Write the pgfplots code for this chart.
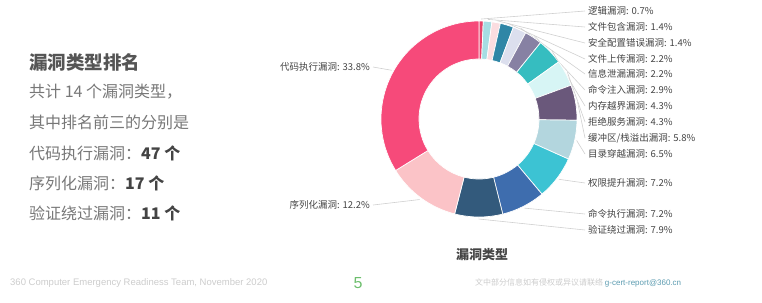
\documentclass[border=0pt]{standalone}
\usepackage{pgfplots}
\usepackage{pgfplotstable}
\pgfplotsset{compat=1.18}
\usepackage{fontspec}
\setmainfont{Noto Sans CJK SC}
\newfontfamily\latin{Liberation Sans}

\definecolor{s1}{HTML}{E8436A}
\definecolor{s2}{HTML}{A6DDE3}
\definecolor{s3}{HTML}{FBDDE0}
\definecolor{s4}{HTML}{2F86A6}
\definecolor{s5}{HTML}{DCDFEE}
\definecolor{s6}{HTML}{8781A3}
\definecolor{s7}{HTML}{36BDC0}
\definecolor{s8}{HTML}{D7F5F5}
\definecolor{s9}{HTML}{6A587B}
\definecolor{s10}{HTML}{B3D6DE}
\definecolor{s11}{HTML}{3CC3D3}
\definecolor{s12}{HTML}{3E6DAE}
\definecolor{s13}{HTML}{335A7C}
\definecolor{s14}{HTML}{FBC3C7}
\definecolor{s15}{HTML}{F64A7A}
\definecolor{lbl}{HTML}{444444}
\definecolor{body}{HTML}{777777}
\definecolor{head}{HTML}{555555}
\definecolor{foot}{HTML}{CCCCCC}
\definecolor{leader}{HTML}{D0D0D0}
\definecolor{pagegreen}{HTML}{6DBE6D}
\definecolor{mail}{HTML}{5B9BB0}

% name, percent, count, label y (px from top), side (R/L), label x
\pgfplotstableread[col sep=comma]{
name,pct,count,ly,side,lx
逻辑漏洞,0.7,1,11,R,588
文件包含漏洞,1.4,2,27,R,588
安全配置错误漏洞,1.4,2,43,R,588
文件上传漏洞,2.2,3,59,R,588
信息泄漏漏洞,2.2,3,74,R,588
命令注入漏洞,2.9,4,90,R,588
内存越界漏洞,4.3,6,106,R,588
拒绝服务漏洞,4.3,6,122,R,588
缓冲区/栈溢出漏洞,5.8,8,138,R,588
目录穿越漏洞,6.5,9,154,R,588
权限提升漏洞,7.2,10,183,R,588
命令执行漏洞,7.2,10,214,R,588
验证绕过漏洞,7.9,11,230,R,588
序列化漏洞,12.2,17,205,L,370
代码执行漏洞,33.8,47,67,L,370
}\vulns

\begin{document}
\begin{tikzpicture}
\begin{axis}[
  hide axis, x=1bp, y=1bp, y dir=reverse,
  xmin=0, xmax=762, ymin=0, ymax=302,
  clip=false, scale only axis,
  at={(0,0)}, anchor=north west,
]
\path (rel axis cs:0,0) rectangle (rel axis cs:1,1);
\pgfplotsextra{%
  \gdef\cum{0}%
  \foreach \i in {0,...,14}{%
    \pgfplotstablegetelem{\i}{pct}\of\vulns \let\p\pgfplotsretval
    \pgfmathsetmacro\a{\cum*3.6}%
    \pgfmathsetmacro\b{(\cum+\p)*3.6}%
    \pgfmathsetmacro\sa{90-\a}%
    \pgfmathsetmacro\ea{90-\b}%
    \pgfmathsetmacro\ma{90-(\a+\b)/2}%
    \pgfmathtruncatemacro\k{\i+1}%
    \fill[s\k, draw=white, line width=0.7bp]
      ([shift={(\sa:98bp)}]axis cs:479,119) arc[start angle=\sa, end angle=\ea, radius=98bp]
      -- ([shift={(\ea:60bp)}]axis cs:479,119) arc[start angle=\ea, end angle=\sa, radius=60bp] -- cycle;
    \pgfplotstablegetelem{\i}{ly}\of\vulns \let\ly\pgfplotsretval
    \pgfplotstablegetelem{\i}{lx}\of\vulns \let\lx\pgfplotsretval
    \pgfplotstablegetelem{\i}{side}\of\vulns \let\sd\pgfplotsretval
    \pgfplotstablegetelem{\i}{name}\of\vulns \let\nm\pgfplotsretval
    \def\R{R}%
    \ifx\sd\R
      \draw[leader, line width=0.6bp] ([shift={(\ma:100bp)}]axis cs:479,119) -- (axis cs:\lx-3,\ly);
      \node[anchor=west, inner sep=0pt, text=lbl, font=\fontsize{9.5bp}{11bp}\selectfont] at (axis cs:\lx,\ly) {\nm: \p\%};
    \else
      \draw[leader, line width=0.6bp] ([shift={(\ma:100bp)}]axis cs:479,119) -- (axis cs:\lx+3,\ly);
      \node[anchor=east, inner sep=0pt, text=lbl, font=\fontsize{9.5bp}{11bp}\selectfont] at (axis cs:\lx,\ly) {\nm: \p\%};
    \fi
    \pgfmathsetmacro\newcum{\cum+\p}%
    \xdef\cum{\newcum}%
  }%
}
% chart title
\node[text=lbl, font=\fontsize{13bp}{15bp}\selectfont\bfseries] at (axis cs:482,255) {漏洞类型};
% left panel
\node[anchor=west, inner sep=0pt, text=head, font=\fontsize{18.5bp}{22bp}\selectfont\bfseries] at (axis cs:29,62) {漏洞类型排名};
\node[anchor=west, inner sep=0pt, text=body, font=\fontsize{16bp}{19bp}\selectfont] at (axis cs:29,92) {共计 14 个漏洞类型，};
\node[anchor=west, inner sep=0pt, text=body, font=\fontsize{16bp}{19bp}\selectfont] at (axis cs:29,122) {其中排名前三的分别是};
\node[anchor=west, inner sep=0pt, text=body, font=\fontsize{16bp}{19bp}\selectfont] at (axis cs:29,153) {代码执行漏洞：{\color{lbl}\bfseries 47 个}};
\node[anchor=west, inner sep=0pt, text=body, font=\fontsize{16bp}{19bp}\selectfont] at (axis cs:29,183) {序列化漏洞：{\color{lbl}\bfseries 17 个}};
\node[anchor=west, inner sep=0pt, text=body, font=\fontsize{16bp}{19bp}\selectfont] at (axis cs:29,213) {验证绕过漏洞：{\color{lbl}\bfseries 11 个}};
% footer
\node[anchor=west, inner sep=0pt, text=foot, font=\latin\fontsize{9.5bp}{11bp}\selectfont] at (axis cs:10,283) {360 Computer Emergency Readiness Team, November 2020};
\node[inner sep=0pt, text=pagegreen, font=\latin\fontsize{16bp}{18bp}\selectfont] at (axis cs:358,283) {5};
\node[anchor=west, inner sep=0pt, text=foot, font=\fontsize{8bp}{10bp}\selectfont] at (axis cs:475,283) {文中部分信息如有侵权或异议请联络 {\color{mail}\latin g-cert-report@360.cn}};
\end{axis}
\end{tikzpicture}
\end{document}
